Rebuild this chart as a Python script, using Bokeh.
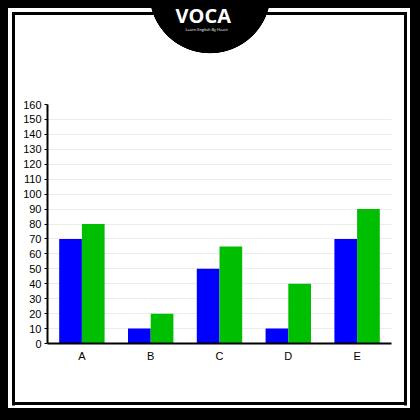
from bokeh.plotting import figure
from bokeh.models import (ColumnDataSource, Range1d, Title, InlineStyleSheet,
                          GlobalInlineStyleSheet)
from bokeh.transform import dodge
from bokeh.embed import file_html
from bokeh.resources import INLINE

# ---- data ----
categories = ["A", "B", "C", "D", "E"]
series_blue = [70, 10, 50, 10, 70]
series_green = [80, 20, 65, 40, 90]
y_ticks = list(range(0, 161, 10))

W = H = 420

src = ColumnDataSource(dict(cat=categories, blue=series_blue, green=series_green))

# decorative poster frame + black half-disc, painted behind the (transparent) canvas border
frame_css = """
:host {
  background:
    radial-gradient(circle 61px at 210px -7.4px, #000 0 60.4px, rgba(0,0,0,0) 61px) no-repeat,
    linear-gradient(#000,#000) 0 0 / 100% 8px no-repeat,
    linear-gradient(#000,#000) 0 0 / 8px 100% no-repeat,
    linear-gradient(#000,#000) 410px 0 / 10px 100% no-repeat,
    linear-gradient(#000,#000) 0 408px / 100% 12px no-repeat,
    linear-gradient(#000,#000) 11.5px 11.5px / 395px 3px no-repeat,
    linear-gradient(#000,#000) 11.5px 11.5px / 3px 393.5px no-repeat,
    linear-gradient(#000,#000) 403.5px 11.5px / 3px 393.5px no-repeat,
    linear-gradient(#000,#000) 11.5px 402px / 395px 3px no-repeat,
    #ffffff;
}
"""
page_css = GlobalInlineStyleSheet(css="html, body { margin: 0; padding: 0; background: #ffffff; }")

p = figure(width=W, height=H, x_range=categories, y_range=Range1d(0, 160),
           output_backend="svg", toolbar_location=None,
           min_border_left=47, min_border_right=29, min_border_top=104,
           min_border_bottom=77, background_fill_color="white",
           border_fill_alpha=0, outline_line_color=None,
           stylesheets=[page_css, InlineStyleSheet(css=frame_css)])

p.vbar(x=dodge("cat", -0.165, range=p.x_range), top="blue", width=0.33,
       source=src, fill_color="#0000FF", line_color=None)
p.vbar(x=dodge("cat", 0.165, range=p.x_range), top="green", width=0.33,
       source=src, fill_color="#00BF00", line_color=None)

font = "Liberation Sans"
p.yaxis.ticker = y_ticks
p.yaxis.axis_line_width = 2
p.yaxis.axis_line_color = "black"
p.yaxis.major_tick_out = 3
p.yaxis.major_tick_in = 0
p.yaxis.minor_tick_line_color = None
p.yaxis.major_label_standoff = 3
p.yaxis.major_label_text_font = font
p.yaxis.major_label_text_font_size = "11px"
p.yaxis.major_label_text_color = "black"

p.xaxis.axis_line_width = 2
p.xaxis.axis_line_color = "black"
p.xaxis.major_tick_out = 0
p.xaxis.major_tick_in = 0
p.xaxis.major_label_standoff = 6
p.xaxis.major_label_text_font = font
p.xaxis.major_label_text_font_size = "11px"
p.xaxis.major_label_text_color = "black"

p.xgrid.grid_line_color = None
p.ygrid.grid_line_color = "#ececec"
p.ygrid.grid_line_width = 1

# ---- logo texts as titles in the top panel (added nearest-to-frame first) ----
p.add_layout(Title(text=" ", text_font_size="40px", standoff=27), "above")
p.add_layout(Title(text="Learn English By Heart", text_font="Open Sans",
                   text_font_size="4px", text_font_style="normal",
                   text_color="white", align="left", offset=138, standoff=0),
             "above")
p.add_layout(Title(text="VOCA", text_font="Open Sans", text_font_size="20px",
                   text_font_style="bold", text_color="white", align="left",
                   offset=128, standoff=-8), "above")

open("out.html", "w").write(file_html(p, INLINE))
